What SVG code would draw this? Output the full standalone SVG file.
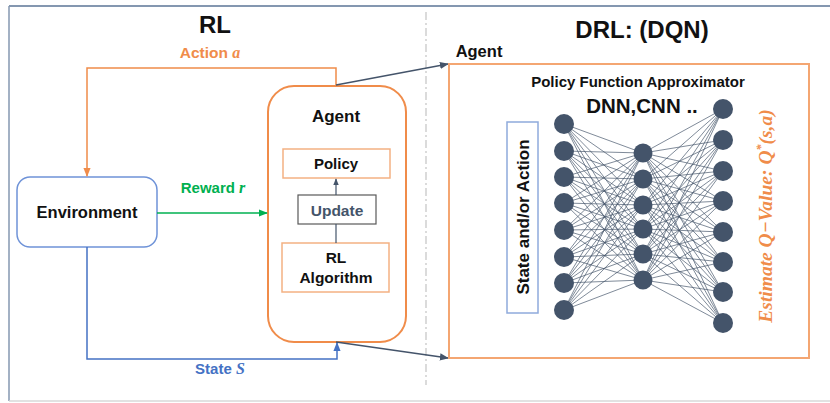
<svg xmlns="http://www.w3.org/2000/svg" width="830" height="403" viewBox="0 0 830 403">
<defs>
<style>
.t{font-family:"Liberation Sans",Arial,sans-serif;font-weight:bold;text-anchor:middle;fill:#111}
.m{font-family:"Liberation Serif","Times New Roman",serif;font-style:italic;font-weight:bold}
.nd{fill:#44546a}
.ed line{stroke:#44546a;stroke-width:0.8;opacity:0.85}
</style>
<marker id="ao" viewBox="0 0 10 10" refX="9" refY="5" markerWidth="6" markerHeight="6" orient="auto"><path d="M0,1 L10,5 L0,9 z" fill="#f08c4a"/></marker>
<marker id="ag" viewBox="0 0 10 10" refX="9" refY="5" markerWidth="6" markerHeight="6" orient="auto"><path d="M0,1 L10,5 L0,9 z" fill="#00b050"/></marker>
<marker id="ab" viewBox="0 0 10 10" refX="9" refY="5" markerWidth="6" markerHeight="6" orient="auto"><path d="M0,1 L10,5 L0,9 z" fill="#4472c4"/></marker>
<marker id="ad" viewBox="0 0 10 10" refX="9" refY="5" markerWidth="6" markerHeight="6" orient="auto"><path d="M0,1 L10,5 L0,9 z" fill="#44546a"/></marker>
</defs>
<rect width="830" height="403" fill="#fff"/>
<!-- outer frame -->
<line x1="9" y1="6" x2="830" y2="6" stroke="#8497b0" stroke-width="2"/>
<line x1="9" y1="6" x2="9" y2="401" stroke="#8497b0" stroke-width="1.5"/>
<line x1="9" y1="401" x2="830" y2="401" stroke="#d9d9d9" stroke-width="1.5"/>
<line x1="426" y1="12" x2="426" y2="385" stroke="#d0d0d0" stroke-width="1.5" stroke-dasharray="8,3,2,3"/>

<text class="t" x="215" y="33" font-size="24">RL</text>
<text class="t" x="642" y="38" font-size="24">DRL: (DQN)</text>

<g id="environment">
<rect x="17" y="177" width="140" height="70" rx="13" fill="#fff" stroke="#6f93d8" stroke-width="1.5"/>
<text class="t" x="87" y="218" font-size="16.5">Environment</text>
</g>

<g id="agent-rl">
<rect x="268" y="86" width="138" height="256" rx="26" fill="#fff" stroke="#f08c4a" stroke-width="2"/>
<text class="t" x="336" y="122" font-size="17">Agent</text>
</g>
<g id="policy">
<rect x="283" y="149" width="107" height="29" fill="#fff" stroke="#f4b183" stroke-width="1.5"/>
<text class="t" x="336" y="169" font-size="15">Policy</text>
</g>
<g id="update">
<rect x="298" y="195" width="78" height="29" fill="#fff" stroke="#595959" stroke-width="1.2"/>
<text class="t" x="337" y="216" font-size="15.5" style="fill:#44546a">Update</text>
</g>
<g id="rl-algorithm">
<rect x="282" y="243" width="107" height="49" fill="#fff" stroke="#f4b183" stroke-width="1.5"/>
<text class="t" x="336" y="263" font-size="15.5">RL</text>
<text class="t" x="336" y="283" font-size="15.5">Algorithm</text>
</g>

<!-- connectors -->
<g id="connectors" fill="none">
<polyline points="336,86 336,68 87,68 87,176" stroke="#f08c4a" stroke-width="1.5" marker-end="url(#ao)"/>
<line x1="157" y1="213" x2="267" y2="213" stroke="#00b050" stroke-width="1.5" marker-end="url(#ag)"/>
<polyline points="87,247 87,359 337,359 337,343" stroke="#4472c4" stroke-width="1.5" marker-end="url(#ab)"/>
<line x1="336" y1="85" x2="448" y2="64" stroke="#44546a" stroke-width="1.5" marker-end="url(#ad)"/>
<line x1="336" y1="342" x2="448" y2="358" stroke="#44546a" stroke-width="1.5" marker-end="url(#ad)"/>
<line x1="336" y1="195" x2="336" y2="179" stroke="#44546a" stroke-width="1.2" marker-end="url(#ad)"/>
<line x1="336" y1="224" x2="336" y2="243" stroke="#44546a" stroke-width="1.2"/>
</g>
<text class="t" x="210" y="58" font-size="15.5" style="fill:#f08c4a">Action <tspan class="m" font-size="16">a</tspan></text>
<text class="t" x="213" y="193" font-size="15" style="fill:#00b050">Reward <tspan class="m" font-size="16">r</tspan></text>
<text class="t" x="220" y="374" font-size="15" style="fill:#4472c4">State <tspan class="m" font-size="16">S</tspan></text>

<g id="agent-drl">
<text class="t" x="479" y="57" font-size="16.5">Agent</text>
<rect x="449" y="64" width="360" height="294" fill="none" stroke="#f4a672" stroke-width="2"/>
<text class="t" x="638" y="87" font-size="15">Policy Function Approximator</text>
<text class="t" x="642" y="113" font-size="20.5">DNN,CNN ..</text>
</g>

<g id="input-box">
<rect x="507" y="122" width="31" height="191" fill="#fff" stroke="#8faadc" stroke-width="1.5"/>
<text class="t" transform="translate(529,217) rotate(-90)" x="0" y="0" font-size="17">State and/or Action</text>
</g>

<g id="network">
<g class="ed">
<line x1="564" y1="124" x2="643" y2="153"/><line x1="564" y1="124" x2="643" y2="179"/><line x1="564" y1="124" x2="643" y2="205"/><line x1="564" y1="124" x2="643" y2="229"/><line x1="564" y1="124" x2="643" y2="254"/><line x1="564" y1="124" x2="643" y2="280"/>
<line x1="564" y1="151" x2="643" y2="153"/><line x1="564" y1="151" x2="643" y2="179"/><line x1="564" y1="151" x2="643" y2="205"/><line x1="564" y1="151" x2="643" y2="229"/><line x1="564" y1="151" x2="643" y2="254"/><line x1="564" y1="151" x2="643" y2="280"/>
<line x1="564" y1="177" x2="643" y2="153"/><line x1="564" y1="177" x2="643" y2="179"/><line x1="564" y1="177" x2="643" y2="205"/><line x1="564" y1="177" x2="643" y2="229"/><line x1="564" y1="177" x2="643" y2="254"/><line x1="564" y1="177" x2="643" y2="280"/>
<line x1="564" y1="203" x2="643" y2="153"/><line x1="564" y1="203" x2="643" y2="179"/><line x1="564" y1="203" x2="643" y2="205"/><line x1="564" y1="203" x2="643" y2="229"/><line x1="564" y1="203" x2="643" y2="254"/><line x1="564" y1="203" x2="643" y2="280"/>
<line x1="564" y1="230" x2="643" y2="153"/><line x1="564" y1="230" x2="643" y2="179"/><line x1="564" y1="230" x2="643" y2="205"/><line x1="564" y1="230" x2="643" y2="229"/><line x1="564" y1="230" x2="643" y2="254"/><line x1="564" y1="230" x2="643" y2="280"/>
<line x1="564" y1="257" x2="643" y2="153"/><line x1="564" y1="257" x2="643" y2="179"/><line x1="564" y1="257" x2="643" y2="205"/><line x1="564" y1="257" x2="643" y2="229"/><line x1="564" y1="257" x2="643" y2="254"/><line x1="564" y1="257" x2="643" y2="280"/>
<line x1="564" y1="283" x2="643" y2="153"/><line x1="564" y1="283" x2="643" y2="179"/><line x1="564" y1="283" x2="643" y2="205"/><line x1="564" y1="283" x2="643" y2="229"/><line x1="564" y1="283" x2="643" y2="254"/><line x1="564" y1="283" x2="643" y2="280"/>
<line x1="564" y1="310" x2="643" y2="153"/><line x1="564" y1="310" x2="643" y2="179"/><line x1="564" y1="310" x2="643" y2="205"/><line x1="564" y1="310" x2="643" y2="229"/><line x1="564" y1="310" x2="643" y2="254"/><line x1="564" y1="310" x2="643" y2="280"/>
<line x1="643" y1="153" x2="723" y2="109"/><line x1="643" y1="153" x2="723" y2="140"/><line x1="643" y1="153" x2="723" y2="171"/><line x1="643" y1="153" x2="723" y2="201"/><line x1="643" y1="153" x2="723" y2="232"/><line x1="643" y1="153" x2="723" y2="262"/><line x1="643" y1="153" x2="723" y2="292"/><line x1="643" y1="153" x2="723" y2="323"/>
<line x1="643" y1="179" x2="723" y2="109"/><line x1="643" y1="179" x2="723" y2="140"/><line x1="643" y1="179" x2="723" y2="171"/><line x1="643" y1="179" x2="723" y2="201"/><line x1="643" y1="179" x2="723" y2="232"/><line x1="643" y1="179" x2="723" y2="262"/><line x1="643" y1="179" x2="723" y2="292"/><line x1="643" y1="179" x2="723" y2="323"/>
<line x1="643" y1="205" x2="723" y2="109"/><line x1="643" y1="205" x2="723" y2="140"/><line x1="643" y1="205" x2="723" y2="171"/><line x1="643" y1="205" x2="723" y2="201"/><line x1="643" y1="205" x2="723" y2="232"/><line x1="643" y1="205" x2="723" y2="262"/><line x1="643" y1="205" x2="723" y2="292"/><line x1="643" y1="205" x2="723" y2="323"/>
<line x1="643" y1="229" x2="723" y2="109"/><line x1="643" y1="229" x2="723" y2="140"/><line x1="643" y1="229" x2="723" y2="171"/><line x1="643" y1="229" x2="723" y2="201"/><line x1="643" y1="229" x2="723" y2="232"/><line x1="643" y1="229" x2="723" y2="262"/><line x1="643" y1="229" x2="723" y2="292"/><line x1="643" y1="229" x2="723" y2="323"/>
<line x1="643" y1="254" x2="723" y2="109"/><line x1="643" y1="254" x2="723" y2="140"/><line x1="643" y1="254" x2="723" y2="171"/><line x1="643" y1="254" x2="723" y2="201"/><line x1="643" y1="254" x2="723" y2="232"/><line x1="643" y1="254" x2="723" y2="262"/><line x1="643" y1="254" x2="723" y2="292"/><line x1="643" y1="254" x2="723" y2="323"/>
<line x1="643" y1="280" x2="723" y2="109"/><line x1="643" y1="280" x2="723" y2="140"/><line x1="643" y1="280" x2="723" y2="171"/><line x1="643" y1="280" x2="723" y2="201"/><line x1="643" y1="280" x2="723" y2="232"/><line x1="643" y1="280" x2="723" y2="262"/><line x1="643" y1="280" x2="723" y2="292"/><line x1="643" y1="280" x2="723" y2="323"/>
</g>
<g class="nd">
<circle cx="564" cy="124" r="10"/><circle cx="564" cy="151" r="10"/><circle cx="564" cy="177" r="10"/><circle cx="564" cy="203" r="10"/><circle cx="564" cy="230" r="10"/><circle cx="564" cy="257" r="10"/><circle cx="564" cy="283" r="10"/><circle cx="564" cy="310" r="10"/>
<circle cx="643" cy="153" r="9.5"/><circle cx="643" cy="179" r="9.5"/><circle cx="643" cy="205" r="9.5"/><circle cx="643" cy="229" r="9.5"/><circle cx="643" cy="254" r="9.5"/><circle cx="643" cy="280" r="9.5"/>
<circle cx="723" cy="109" r="10"/><circle cx="723" cy="140" r="10"/><circle cx="723" cy="171" r="10"/><circle cx="723" cy="201" r="10"/><circle cx="723" cy="232" r="10"/><circle cx="723" cy="262" r="10"/><circle cx="723" cy="292" r="10"/><circle cx="723" cy="323" r="10"/>
</g>
</g>

<g id="output-label">
<text transform="translate(772,216) rotate(-90)" x="0" y="0" text-anchor="middle" font-family="'Liberation Serif','Times New Roman',serif" font-style="italic" font-weight="bold" font-size="19.5" fill="#f08c4a">Estimate Q−Value: Q<tspan baseline-shift="super" font-size="12">*</tspan>(s,a)</text>
</g>
</svg>
